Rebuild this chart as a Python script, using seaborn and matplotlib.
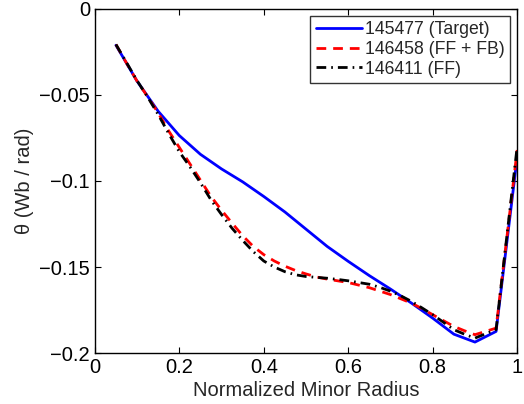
import numpy as np
import pandas as pd
import seaborn as sns
import matplotlib.pyplot as plt

# normalized minor radius grids
radius_target = [0.05, 0.10, 0.15, 0.20, 0.25, 0.30, 0.35, 0.40, 0.45, 0.50,
                 0.55, 0.60, 0.65, 0.70, 0.75, 0.80, 0.85, 0.90, 0.95, 1.00]
radius_shots = [0.050, 0.075, 0.100, 0.125, 0.150, 0.175, 0.200, 0.225, 0.250, 0.275,
                0.300, 0.325, 0.350, 0.375, 0.400, 0.425, 0.450, 0.475, 0.500, 0.525,
                0.550, 0.575, 0.600, 0.625, 0.650, 0.675, 0.700, 0.725, 0.750, 0.775,
                0.800, 0.825, 0.850, 0.875, 0.900, 0.925, 0.950, 0.975, 1.000]

target_145477 = [-0.0211, -0.0420, -0.0595, -0.0736, -0.0845, -0.0930, -0.1005, -0.1090, -0.1180, -0.1280,
                 -0.1380, -0.1467, -0.1550, -0.1628, -0.1710, -0.1797, -0.1890, -0.1936, -0.1874, -0.0860]
fffb_146458 = [-0.0207, -0.0315, -0.0420, -0.0510, -0.0605, -0.0710, -0.0805, -0.0900, -0.0995, -0.1090,
               -0.1170, -0.1245, -0.1318, -0.1380, -0.1428, -0.1465, -0.1495, -0.1520, -0.1540, -0.1558,
               -0.1570, -0.1580, -0.1590, -0.1605, -0.1620, -0.1640, -0.1660, -0.1685, -0.1710, -0.1742,
               -0.1777, -0.1811, -0.1845, -0.1870, -0.1893, -0.1874, -0.1855, -0.1340, -0.0820]
ff_146411 = [-0.0207, -0.0312, -0.0417, -0.0512, -0.0614, -0.0725, -0.0830, -0.0917, -0.1010, -0.1110,
             -0.1195, -0.1275, -0.1345, -0.1410, -0.1465, -0.1500, -0.1527, -0.1545, -0.1555, -0.1560,
             -0.1565, -0.1572, -0.1580, -0.1590, -0.1600, -0.1618, -0.1640, -0.1668, -0.1700, -0.1738,
             -0.1777, -0.1820, -0.1864, -0.1890, -0.1913, -0.1888, -0.1864, -0.1332, -0.0800]

labels = ['145477 (Target)', '146458 (FF + FB)', '146411 (FF)']

sns.set_style("white")
plt.rcParams['font.family'] = ['Liberation Sans', 'DejaVu Sans']

fig, ax = plt.subplots(figsize=(5.24, 4.04), dpi=100)

sns.lineplot(x=radius_target, y=target_145477, color='#0000ff', linewidth=2, label=labels[0], ax=ax)
sns.lineplot(x=radius_shots, y=fffb_146458, color='#ff0000', linewidth=2, linestyle=(0, (3.5, 2.5)),
             label=labels[1], ax=ax)
sns.lineplot(x=radius_shots, y=ff_146411, color='black', linewidth=2, linestyle=(0, (3.5, 1.8, 0.6, 1.8)),
             label=labels[2], ax=ax)

ax.set_xlim(0, 1)
ax.set_ylim(-0.2, 0)
ax.set_xticks([0, 0.2, 0.4, 0.6, 0.8, 1])
ax.set_xticklabels(['0', '0.2', '0.4', '0.6', '0.8', '1'])
ax.set_yticks([-0.2, -0.15, -0.1, -0.05, 0])
ax.set_yticklabels(['\u22120.2', '\u22120.15', '\u22120.1', '\u22120.05', '0'])
ax.tick_params(direction='in', length=4, width=0.8, labelsize=14.5, top=True, right=True,
               bottom=True, left=True, colors='black')
for s in ax.spines.values():
    s.set_color('black')
    s.set_linewidth(1)

ax.set_xlabel('Normalized Minor Radius', fontsize=14.5, labelpad=3)
ax.set_ylabel('\u03b8 (Wb / rad)', fontsize=14.5, labelpad=4)

leg = ax.legend(loc='upper right', fontsize=12.7, frameon=True, fancybox=False,
                handlelength=2.6, handletextpad=0.2, borderpad=0.3, labelspacing=0.15,
                borderaxespad=0.4)
leg.get_frame().set_edgecolor('black')
leg.get_frame().set_linewidth(1)

fig.subplots_adjust(left=0.181, right=0.987, top=0.978, bottom=0.126)
fig.savefig('out.png', dpi=100)
